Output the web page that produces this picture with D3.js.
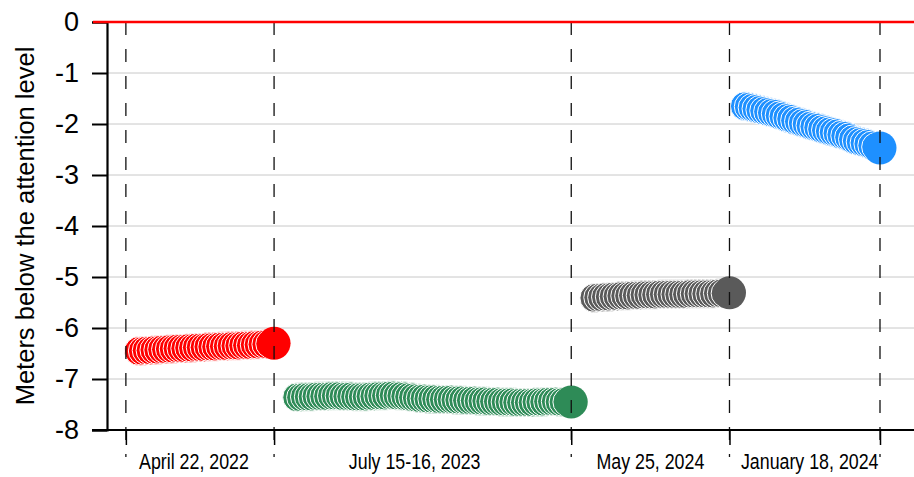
<!DOCTYPE html>
<html>
<head>
<meta charset="utf-8">
<script src="https://cdn.jsdelivr.net/npm/d3@7"></script>
<style>
  body { margin: 0; background: #fff; }
  svg { display: block; }
</style>
</head>
<body>
<svg width="914" height="477"></svg>
<script>
// readings (meters below attention level), one every ~40 min
var redLevels = [-6.45,-6.45,-6.44,-6.44,-6.43,-6.43,-6.42,-6.42,-6.41,-6.41,
  -6.40,-6.40,-6.40,-6.39,-6.39,-6.38,-6.38,-6.38,-6.37,-6.37,
  -6.37,-6.36,-6.36,-6.36,-6.35,-6.35,-6.35,-6.34,-6.34,-6.34,
  -6.33,-6.33,-6.32,-6.32,-6.31,-6.30]
var greenLevels = [-7.36,-7.36,-7.35,-7.35,-7.35,-7.34,-7.34,-7.34,-7.34,-7.33,
  -7.33,-7.33,-7.34,-7.34,-7.34,-7.35,-7.35,-7.35,-7.35,-7.34,
  -7.34,-7.33,-7.33,-7.33,-7.32,-7.32,-7.33,-7.33,-7.34,-7.35,
  -7.36,-7.37,-7.38,-7.38,-7.39,-7.39,-7.39,-7.40,-7.40,-7.40,
  -7.40,-7.41,-7.41,-7.41,-7.42,-7.42,-7.42,-7.43,-7.43,-7.43,
  -7.44,-7.44,-7.44,-7.45,-7.45,-7.45,-7.45,-7.46,-7.46,-7.46,
  -7.46,-7.46,-7.45,-7.45,-7.45,-7.44,-7.44,-7.44,-7.45,-7.45,
  -7.45,-7.45]
var grayLevels = [-5.41,-5.40,-5.40,-5.39,-5.39,-5.38,-5.38,-5.37,-5.37,-5.37,
  -5.36,-5.36,-5.36,-5.35,-5.35,-5.35,-5.35,-5.34,-5.34,-5.34,
  -5.34,-5.34,-5.34,-5.34,-5.34,-5.33,-5.33,-5.33,-5.33,-5.33,
  -5.33,-5.33,-5.32,-5.32,-5.32,-5.31]
var blueLevels = [-1.65,-1.66,-1.68,-1.70,-1.72,-1.74,-1.76,-1.78,-1.80,-1.83,
  -1.85,-1.88,-1.90,-1.93,-1.95,-1.98,-2.00,-2.03,-2.05,-2.07,
  -2.10,-2.12,-2.14,-2.16,-2.18,-2.21,-2.23,-2.26,-2.30,-2.33,
  -2.35,-2.37,-2.39,-2.42,-2.45,-2.47]

var eventLabels = ["April 22, 2022", "July 15-16, 2023", "May 25, 2024", "January 18, 2024"]
var eventColors = ["#ff0000", "#2e8b57", "#5a5a5a", "#1e90ff"]
var eventStart = [0, 41, 118, 157]           // reading index where each event begins
var boundaries = [-3.4, 35, 112, 153, 192]   // dashed separators (reading index)
var yTicks = [0, -1, -2, -3, -4, -5, -6, -7, -8]

var series = [redLevels, greenLevels, grayLevels, blueLevels]

var svg = d3.select('svg')
var plotL = 107, plotR = 914, plotT = 22, plotB = 430
var labelNudge = [-6, -8, 0, 5]   // px, label placement tweaks

var x = d3.scaleLinear().domain([0, 192]).range([139, 880])
var y = d3.scaleLinear().domain([-8, 0]).range([plotB, plotT])

// grid
svg.append('g').selectAll('line').data(yTicks.slice(1, -1)).enter()
  .append('line')
  .attr('x1', plotL).attr('x2', plotR)
  .attr('y1', d => y(d)).attr('y2', d => y(d))
  .attr('stroke', '#c8c8c8').attr('stroke-width', 1)

// circles
series.forEach(function(vals, i){
  var g = svg.append('g')
  g.selectAll('circle').data(vals).enter()
    .append('circle')
    .attr('cx', (d, j) => x(eventStart[i] + j))
    .attr('cy', d => y(d))
    .attr('r', (d, j) => j == vals.length - 1 ? 16.5 : 14.5)
    .attr('fill', eventColors[i])
    .attr('stroke', (d, j) => j == vals.length - 1 ? 'none' : '#fff')
    .attr('stroke-width', 1)
})

// dashed separators
svg.append('g').selectAll('line').data(boundaries).enter()
  .append('line')
  .attr('x1', d => x(d)).attr('x2', d => x(d))
  .attr('y1', plotT).attr('y2', 457)
  .attr('stroke', '#111').attr('stroke-width', 1.3)
  .attr('stroke-dasharray', '13,14')

// y axis
var yAxis = d3.axisLeft(y).tickValues(yTicks).tickSize(15).tickPadding(13)
  .tickFormat(d => d == 0 ? "0" : "-" + Math.abs(d))
var ya = svg.append('g').attr('transform', 'translate(' + plotL + ',0)').call(yAxis)
ya.select('.domain').attr('stroke', '#000').attr('stroke-width', 2.2)
ya.selectAll('.tick line').attr('stroke', '#000').attr('stroke-width', 2)
ya.selectAll('.tick text').attr('font-family', 'Liberation Sans, Arial, sans-serif')
  .attr('font-size', 27).attr('fill', '#000')

// x axis
var xAxis = d3.axisBottom(x).tickValues(boundaries).tickSize(15).tickFormat('')
var xa = svg.append('g').attr('transform', 'translate(0,' + plotB + ')').call(xAxis)
xa.select('.domain').remove()
xa.selectAll('.tick line').attr('stroke', '#000').attr('stroke-width', 1.5)
svg.append('line').attr('x1', 92).attr('x2', plotR).attr('y1', plotB).attr('y2', plotB)
  .attr('stroke', '#000').attr('stroke-width', 2.2)

// event labels
svg.append('g').selectAll('text').data(eventLabels).enter()
  .append('text')
  .attr('x', (d, i) => (x(boundaries[i]) + x(boundaries[i + 1])) / 2 + labelNudge[i])
  .attr('y', 469)
  .attr('text-anchor', 'middle')
  .attr('font-family', 'Liberation Sans, Arial, sans-serif')
  .attr('font-size', 22)
  .attr('transform', (d, i) => {
    var cx = (x(boundaries[i]) + x(boundaries[i + 1])) / 2 + labelNudge[i]
    return 'translate(' + cx + ',0) scale(0.81,1) translate(' + (-cx) + ',0)'
  })
  .text(d => d)

// attention level
svg.append('line').attr('x1', 93).attr('x2', plotR).attr('y1', y(0)).attr('y2', y(0))
  .attr('stroke', '#ff0000').attr('stroke-width', 2.5)

// y title
svg.append('text')
  .attr('transform', 'translate(34,' + ((plotT + plotB) / 2) + ') rotate(-90)')
  .attr('text-anchor', 'middle')
  .attr('font-family', 'Liberation Sans, Arial, sans-serif')
  .attr('font-size', 25.5)
  .text('Meters below the attention level')
</script>
</body>
</html>
